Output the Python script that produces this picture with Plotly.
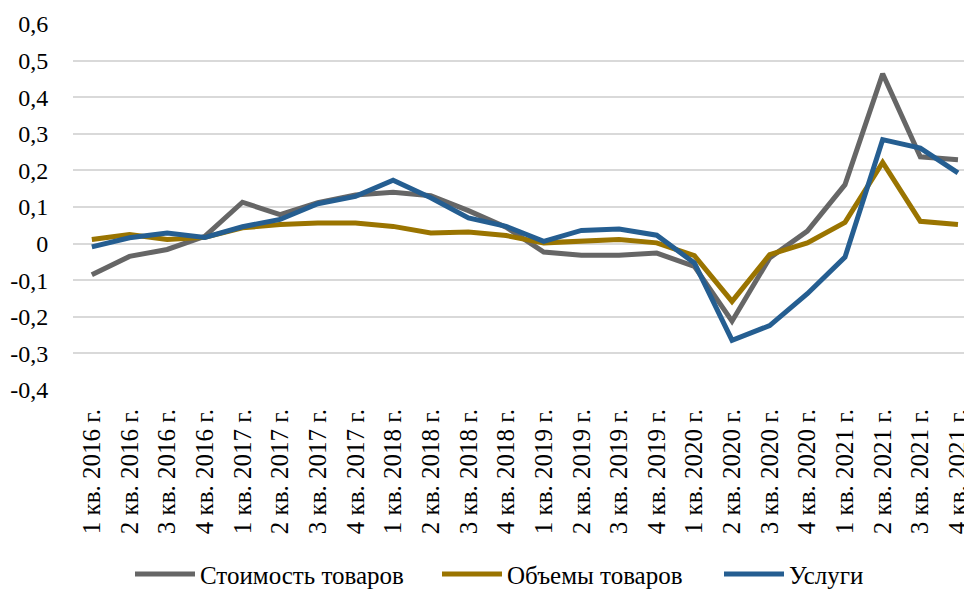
import plotly.graph_objects as go

categories = [f"{q} кв. {y} г." for y in range(2016, 2022) for q in range(1, 5)]

goods_value = [-0.085, -0.035, -0.016, 0.020, 0.113, 0.079, 0.112, 0.133, 0.140, 0.131, 0.090, 0.045,
               -0.023, -0.032, -0.032, -0.026, -0.062, -0.212, -0.039, 0.034, 0.161, 0.464, 0.237, 0.229]
goods_volume = [0.011, 0.025, 0.011, 0.017, 0.043, 0.052, 0.056, 0.056, 0.047, 0.029, 0.032, 0.022,
                0.002, 0.008, 0.011, 0.002, -0.033, -0.158, -0.030, 0.002, 0.058, 0.222, 0.061, 0.052]
services = [-0.009, 0.016, 0.029, 0.017, 0.046, 0.066, 0.109, 0.129, 0.173, 0.125, 0.070, 0.047,
            0.006, 0.036, 0.040, 0.023, -0.053, -0.264, -0.224, -0.137, -0.037, 0.284, 0.261, 0.193]

series_names = ["Стоимость товаров", "Объемы товаров", "Услуги"]
series_colors = ["#666666", "#9A7400", "#255E91"]
legend_ids = ["legend", "legend2", "legend3"]
legend_x = [130 / 964, 437 / 964, 719 / 964]

y_tickvals = [-0.4, -0.3, -0.2, -0.1, 0, 0.1, 0.2, 0.3, 0.4, 0.5, 0.6]
y_ticklabels = ["-0,4", "-0,3", "-0,2", "-0,1", "0", "0,1", "0,2", "0,3", "0,4", "0,5", "0,6"]

font_family = "Times New Roman, Liberation Serif, DejaVu Serif, serif"
fsize = 25

fig = go.Figure()
for name, vals, color, lid in zip(series_names, [goods_value, goods_volume, services], series_colors, legend_ids):
    fig.add_trace(go.Scatter(
        x=list(range(len(categories))), y=vals, name=name, mode="lines",
        line=dict(color=color, width=5, shape="linear"), legend=lid,
    ))

legend_common = dict(orientation="h", xanchor="left", xref="container",
                     y=0.025, yanchor="middle", yref="container",
                     font=dict(family=font_family, size=fsize), itemwidth=60,
                     bgcolor="rgba(0,0,0,0)")

fig.update_layout(
    width=964, height=589,
    margin=dict(l=73, r=0, t=24, b=199, autoexpand=False),
    paper_bgcolor="white", plot_bgcolor="white",
    font=dict(family=font_family, size=fsize, color="#000000"),
    showlegend=True,
    legend=dict(x=legend_x[0], **legend_common),
    legend2=dict(x=legend_x[1], **legend_common),
    legend3=dict(x=legend_x[2], **legend_common),
    xaxis=dict(
        tickmode="array", tickvals=list(range(len(categories))), ticktext=categories,
        range=[-0.5, 23.16], tickangle=-90, showgrid=False, zeroline=False,
        showline=False, ticks="outside", ticklen=8, tickcolor="rgba(0,0,0,0)",
        tickfont=dict(family=font_family, size=fsize), automargin=False,
        ticklabeloverflow="allow",
    ),
    yaxis=dict(
        range=[-0.4, 0.6], tickmode="array", tickvals=y_tickvals, ticktext=y_ticklabels,
        showgrid=True, gridcolor="#d9d9d9", gridwidth=1.5, zeroline=False,
        showline=False, ticks="outside", ticklen=19, tickcolor="rgba(0,0,0,0)",
        tickfont=dict(family=font_family, size=24), automargin=False,
        ticklabeloverflow="allow",
    ),
)

fig.write_html("out.html", config={"displayModeBar": False},
               post_script="document.body.style.margin='0';document.body.style.padding='0';")
